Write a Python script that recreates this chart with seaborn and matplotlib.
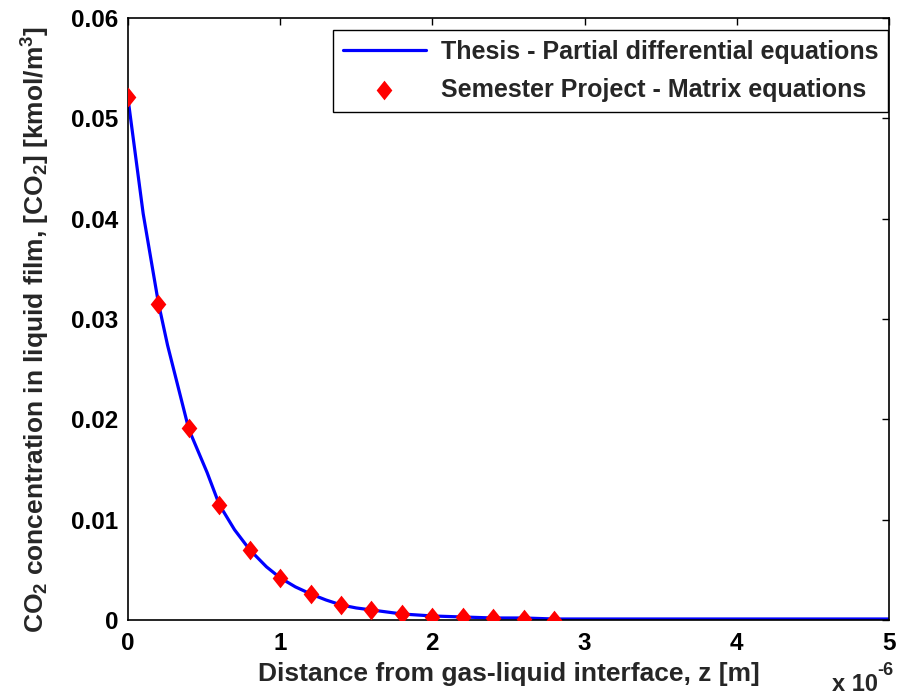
import numpy as np
import pandas as pd
import seaborn as sns
import matplotlib.pyplot as plt
from matplotlib.ticker import FuncFormatter, MultipleLocator

# Thesis curve (distance in micrometres, concentration in kmol/m3)
pde_z = [0.0, 0.1, 0.2, 0.26, 0.4, 0.52, 0.6, 0.7, 0.8, 0.91, 1.0,
         1.1, 1.2, 1.3, 1.4, 1.5, 1.6, 1.7, 1.8, 1.9, 2.0,
         2.2, 2.4, 2.6, 2.8, 3.0, 5.0]
pde_c = [0.0520, 0.0405, 0.0316, 0.0274, 0.0190, 0.0147, 0.0115, 0.0090,
         0.0070, 0.0053, 0.0042, 0.0033, 0.0026, 0.0020, 0.0015, 0.0012,
         0.0010, 0.0008, 0.0006, 0.0005, 0.0004, 0.0003, 0.0002, 0.0002,
         0.0001, 0.0001, 0.0001]

# Semester project points
mat_z = [0.0, 0.2, 0.4, 0.6, 0.8, 1.0, 1.2, 1.4, 1.6, 1.8, 2.0, 2.2, 2.4, 2.6, 2.8]
mat_c = [0.0521, 0.0315, 0.0191, 0.0115, 0.0070, 0.0042, 0.0026, 0.0015,
         0.0010, 0.0006, 0.0003, 0.0003, 0.0002, 0.0001, 0.0000]

pde = pd.DataFrame({'z': np.array(pde_z) * 1e-6, 'c': pde_c})
mat = pd.DataFrame({'z': np.array(mat_z) * 1e-6, 'c': mat_c})

sns.set_style('white')
plt.rcParams['font.family'] = ['Liberation Sans', 'DejaVu Sans']
plt.rcParams['font.weight'] = 'bold'
plt.rcParams['mathtext.fontset'] = 'custom'
plt.rcParams['mathtext.rm'] = 'Liberation Sans:bold'
plt.rcParams['mathtext.default'] = 'regular'

fig = plt.figure(figsize=(9.03, 7.0), dpi=100)
ax = fig.add_axes([0.1417, 0.1143, 0.8428, 0.86])

# MATLAB-style diamond, a bit narrower than tall
diamond = [(0, 1), (0.8, 0), (0, -1), (-0.8, 0), (0, 1)]

sns.lineplot(data=pde, x='z', y='c', ax=ax, color='#0000ff', linewidth=2.3,
             label='Thesis - Partial differential equations')
sns.scatterplot(data=mat, x='z', y='c', ax=ax, color='#ff0000', marker=diamond,
                s=200, linewidth=0, zorder=3,
                label='Semester Project - Matrix equations')

ax.set_xlim(0, 5e-6)
ax.set_ylim(0, 0.06)
ax.xaxis.set_major_locator(MultipleLocator(1e-6))
ax.yaxis.set_major_locator(MultipleLocator(0.01))
ax.xaxis.set_major_formatter(FuncFormatter(lambda v, p: f'{v * 1e6:g}'))
ax.yaxis.set_major_formatter(FuncFormatter(lambda v, p: '0' if abs(v) < 1e-12 else f'{v:.2f}'))

ax.tick_params(direction='in', length=5, width=1, top=True, right=True,
               labelsize=17.5, colors='black')
ax.tick_params(axis='x', pad=9)
ax.tick_params(axis='y', pad=7)
for lab in ax.get_xticklabels() + ax.get_yticklabels():
    lab.set_fontweight('bold')
for sp in ax.spines.values():
    sp.set_color('black')
    sp.set_linewidth(1.2)

ax.set_xlabel('Distance from gas-liquid interface, z [m]', fontsize=19,
              fontweight='bold', labelpad=5)
ax.set_ylabel('CO$_2$ concentration in liquid film, [CO$_2$] [kmol/m$^3$]',
              fontsize=19, fontweight='bold')
ax.yaxis.set_label_coords(-0.1, 0.482)

# exponent of the x axis, MATLAB style
fig.text(0.921, 0.013, 'x 10', fontsize=17, fontweight='bold')
fig.text(0.972, 0.036, '-6', fontsize=13, fontweight='bold')

leg = ax.legend(loc='upper right', bbox_to_anchor=(0.999, 0.98), borderaxespad=0,
                fancybox=False, framealpha=1, edgecolor='black',
                prop={'size': 18, 'weight': 'bold'}, handlelength=3.3,
                handletextpad=0.6, borderpad=0.4, labelspacing=0.56)
leg.get_frame().set_linewidth(1.0)

fig.savefig('out.png', dpi=100)
